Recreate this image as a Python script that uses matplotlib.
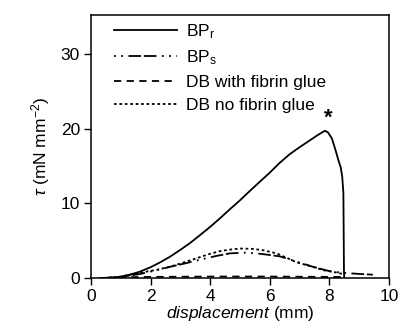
import matplotlib
matplotlib.use("Agg")
import matplotlib.pyplot as plt

plt.rcParams['font.family'] = ['Liberation Sans', 'DejaVu Sans']
plt.rcParams['mathtext.fontset'] = 'custom'
plt.rcParams['mathtext.rm'] = 'Liberation Sans'
plt.rcParams['mathtext.it'] = 'Liberation Sans:italic'

# BP_r (solid)
bpr_x = [0.3, 0.6, 0.97, 1.3, 1.64, 2.0, 2.32, 2.65, 2.99, 3.33, 3.66, 4.0, 4.33,
         4.66, 5.0, 5.33, 5.67, 6.0, 6.33, 6.68, 7.0, 7.3, 7.6, 7.85, 7.95, 8.08,
         8.2, 8.3, 8.38, 8.43, 8.47, 8.48, 8.49, 8.5]
bpr_y = [0.0, 0.05, 0.15, 0.45, 0.85, 1.45, 2.1, 2.85, 3.75, 4.7, 5.75, 6.85, 8.0,
         9.2, 10.4, 11.65, 12.9, 14.1, 15.4, 16.6, 17.5, 18.3, 19.1, 19.7, 19.5, 18.7,
         17.2, 15.8, 14.8, 13.6, 11.4, 6.0, 0.7, 0.0]

# BP_s (dot-dot-dash)
bps_x = [0.4, 1.0, 1.64, 2.2, 2.65, 3.2, 3.66, 4.2, 4.66, 5.2, 5.67, 6.34, 6.9,
         7.45, 8.02, 8.46, 9.0, 9.46]
bps_y = [0.0, 0.15, 0.54, 1.05, 1.5, 2.0, 2.45, 2.95, 3.3, 3.4, 3.25, 2.9, 2.2,
         1.5, 0.9, 0.7, 0.55, 0.45]

# DB with fibrin glue (dashed)
dbw_x = [0.5, 1.0, 2.0, 4.0, 6.0, 8.0, 8.5]
dbw_y = [0.0, 0.1, 0.15, 0.2, 0.2, 0.15, 0.15]

# DB no fibrin glue (dotted)
dbn_x = [0.4, 1.0, 1.64, 2.2, 2.65, 3.2, 3.66, 4.0, 4.33, 4.66, 5.0, 5.44, 5.8,
         6.23, 6.57, 6.9, 7.45, 7.8, 8.1, 8.5]
dbn_y = [0.0, 0.2, 0.7, 1.1, 1.5, 2.2, 2.8, 3.25, 3.6, 3.8, 3.95, 3.9, 3.7,
         3.3, 2.7, 2.1, 1.5, 1.05, 0.85, 0.5]

fig = plt.figure(figsize=(4.01, 3.31), dpi=100)
ax = fig.add_axes([0.227, 0.160, 0.743, 0.795])

lw = 1.3
ax.plot(bpr_x, bpr_y, color='black', lw=lw, ls='-', label='BP$_\\mathrm{r}$')
ax.plot(bps_x, bps_y, color='black', lw=lw, ls=(0, (1, 3, 1, 3, 7, 1.5, 7, 3)),
        label='BP$_\\mathrm{s}$')
ax.plot(dbw_x, dbw_y, color='black', lw=lw, ls=(0, (4, 3)), label='DB with fibrin glue')
ax.plot(dbn_x, dbn_y, color='black', lw=lw, ls=(0, (1.5, 1.5)), label='DB no fibrin glue')

ax.text(7.95, 20.0, '*', fontsize=16, fontweight='bold', ha='center', va='bottom')

ax.set_xlim(0, 10)
ax.set_ylim(0, 35.2)
ax.set_xticks([0, 2, 4, 6, 8, 10])
ax.set_yticks([0, 10, 20, 30])
ax.tick_params(direction='out', length=5, width=1, labelsize=12.5, pad=3,
               top=False, right=False)
for s in ax.spines.values():
    s.set_linewidth(1.1)

ax.set_xlabel('$\\mathit{displacement}$ (mm)', fontsize=12.5, labelpad=0)
ax.set_ylabel('$\\mathit{\\tau}$ (mN mm$^{-2}$)', fontsize=12.5, labelpad=6)

ax.legend(loc='upper left', frameon=False, fontsize=12.5, handlelength=3.6,
          handletextpad=0.5, labelspacing=0.45, borderaxespad=0.0,
          bbox_to_anchor=(0.055, 1.0))

fig.savefig('out.png', dpi=100)
